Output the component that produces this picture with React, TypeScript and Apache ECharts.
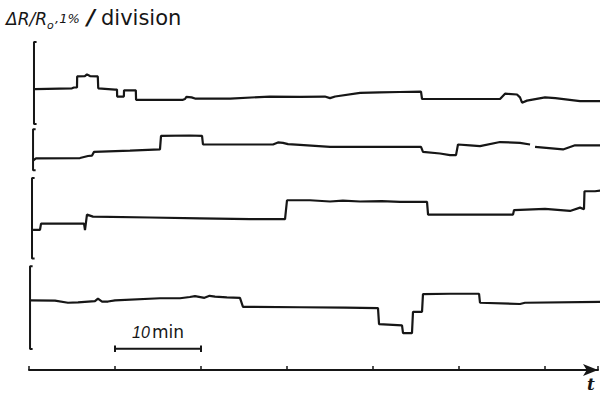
import React, { useEffect, useRef } from "react";
import * as echarts from "echarts";

// time in minutes, value in % (1 division = 1 %), relative to each panel's centre
const trace1: [number, number][] = [
  [0.7, -0.15], [5.0, -0.13], [5.23, -0.11], [5.58, -0.11], [5.6, 0.16], [6.5, 0.17], [6.74, 0.21], [7.09, 0.17],
  [8.0, 0.16], [8.05, -0.13], [10.0, -0.16], [10.23, -0.16], [10.25, -0.33], [11.03, -0.33], [11.05, -0.18],
  [12.42, -0.18], [12.45, -0.41], [17.9, -0.41], [18.14, -0.39], [18.3, -0.34], [18.9, -0.35], [19.3, -0.38],
  [23.4, -0.38], [28.0, -0.33], [31.5, -0.34], [34.4, -0.33], [35.0, -0.37], [35.6, -0.33], [38.5, -0.24],
  [40.8, -0.23], [43.1, -0.22], [45.58, -0.21], [45.7, -0.39], [54.77, -0.39], [55.35, -0.26], [56.74, -0.28],
  [57.09, -0.35], [57.33, -0.48], [57.9, -0.43], [60.0, -0.35], [61.2, -0.37], [64.07, -0.44], [66.63, -0.44]
];
const trace2: [number, number][] = [
  [0.47, -0.26], [0.81, -0.21], [5.93, -0.2], [6.86, -0.15], [7.33, -0.14], [7.56, -0.05], [11.74, -0.02],
  [15.23, 0.01], [15.35, 0.34], [18.7, 0.35], [20.12, 0.34], [20.23, 0.13], [28.37, 0.13], [28.95, 0.18],
  [29.53, 0.17], [30.12, 0.14], [31.51, 0.12], [35.0, 0.07], [45.58, 0.07], [45.81, -0.05], [47.79, -0.09],
  [48.95, -0.13], [49.65, -0.13], [49.88, 0.13], [51.28, 0.11], [52.44, 0.09], [54.77, 0.19], [57.09, 0.17],
  [58.26, 0.13], [58.5, null as unknown as number], [58.84, 0.07], [62.09, 0.01], [63.49, 0.11], [66.63, 0.11]
];
const trace3: [number, number][] = [
  [0.47, -0.28], [1.28, -0.28], [1.4, -0.13], [6.4, -0.13], [6.51, -0.29], [6.74, 0.09], [7.44, 0.04],
  [14.07, 0.02], [19.88, 0.0], [25.7, -0.02], [29.77, -0.02], [30.0, 0.44], [32.67, 0.44], [35.0, 0.41],
  [36.5, 0.43], [38.49, 0.41], [41.0, 0.42], [43.14, 0.4], [46.28, 0.4], [46.4, 0.09], [52.0, 0.09],
  [56.28, 0.09], [56.4, 0.2], [60.0, 0.23], [62.91, 0.18], [64.07, 0.26], [64.53, 0.22], [64.59, 0.66],
  [65.81, 0.66], [66.63, 0.68]
];
const trace4: [number, number][] = [
  [0.23, 0.18], [3.02, 0.17], [4.53, 0.12], [5.7, 0.13], [7.67, 0.16], [8.02, 0.22], [8.49, 0.15],
  [9.19, 0.15], [10.0, 0.18], [15.23, 0.23], [17.56, 0.23], [18.7, 0.26], [19.3, 0.28], [20.4, 0.24],
  [21.0, 0.29], [21.63, 0.27], [23.0, 0.25], [24.53, 0.24], [24.88, 0.02], [31.51, 0.01], [36.74, 0.0],
  [40.58, -0.01], [40.7, -0.4], [43.37, -0.43], [43.49, -0.62], [44.53, -0.62], [44.65, -0.1], [45.7, -0.1],
  [45.81, 0.33], [48.95, 0.34], [52.33, 0.34], [52.44, 0.12], [57.09, 0.09], [57.67, 0.12], [66.63, 0.14]
];
const traces = [trace1, trace2, trace3, trace4];
const panelOffsets = [7.0, 5.37, 3.7, 1.52];
const bracketX = [0.58, 0.47, 0.35, 0.12];
const bracketHalf = [1.0, 0.5, 0.98, 1.01];
const scaleBarMinutes = [10, 20];
const scaleBarLevel = 0.52;
const titleParts = ["ΔR/R", "o", ",1%", "/", "division"];
const scaleLabel = ["10", "min"];
const timeLabel = "t";

const INK = "#161616";

export default function App() {
  const ref = useRef<HTMLDivElement>(null);
  useEffect(() => {
    const chart = echarts.init(ref.current!, undefined, { renderer: "svg" });
    const series: any[] = [];
    traces.forEach((tr, i) => {
      series.push({
        type: "line",
        clip: false,
        showSymbol: false,
        connectNulls: false,
        lineStyle: { color: INK, width: 2.2 },
        data: tr.map(([t, v]) => [t, v == null ? null : v + panelOffsets[i]]),
      });
      const x = bracketX[i];
      const top = panelOffsets[i] + bracketHalf[i];
      const bot = panelOffsets[i] - bracketHalf[i];
      const hook = 0.3;
      series.push({
        type: "line",
        clip: false,
        showSymbol: false,
        lineStyle: { color: INK, width: 2 },
        data: [[x + hook, top], [x, top], [x, bot], [x + hook, bot]],
      });
    });
    const [s0, s1] = scaleBarMinutes;
    const c = 0.08;
    series.push({
      type: "line",
      clip: false,
      showSymbol: false,
      lineStyle: { color: INK, width: 2 },
      data: [[s0, scaleBarLevel + c], [s0, scaleBarLevel - c], [s0, scaleBarLevel], [s1, scaleBarLevel], [s1, scaleBarLevel + c], [s1, scaleBarLevel - c]],
    });

    const sans = "DejaVu Sans";
    chart.setOption({
      animation: false,
      grid: { left: 29, right: 4, top: 1, bottom: 25 },
      xAxis: {
        type: "value",
        min: 0,
        max: 66.16,
        interval: 10,
        axisLine: { show: true, lineStyle: { color: INK, width: 2 }, symbol: ["none", "arrow"], symbolSize: [9, 15] },
        axisTick: { show: true, inside: true, length: 4, lineStyle: { color: INK, width: 1.5 } },
        axisLabel: { show: false },
        splitLine: { show: false },
      },
      yAxis: { type: "value", min: 0, max: 9, show: false, splitLine: { show: false } },
      series,
      graphic: [
        { type: "text", x: 6, y: 19, style: { text: titleParts[0], font: `italic 17px "${sans}"`, fill: INK, verticalAlign: "middle" } },
        { type: "text", x: 47, y: 25, style: { text: titleParts[1], font: `italic 11px "${sans}"`, fill: INK, verticalAlign: "middle" } },
        { type: "text", x: 55, y: 18, style: { text: titleParts[2], font: `italic 13px "${sans}"`, fill: INK, verticalAlign: "middle" } },
        { type: "text", x: 87, y: 17, style: { text: titleParts[3], font: `italic bold 22px "${sans}"`, fill: INK, verticalAlign: "middle" } },
        { type: "text", x: 101, y: 17.5, style: { text: titleParts[4], font: `21px "${sans}"`, fill: INK, verticalAlign: "middle" } },
        { type: "text", x: 132, y: 332, style: { text: scaleLabel[0], font: `italic 16px "Liberation Sans"`, fill: INK, verticalAlign: "middle" } },
        { type: "text", x: 152, y: 332, style: { text: scaleLabel[1], font: `17px "${sans}"`, fill: INK, verticalAlign: "middle" } },
        { type: "text", x: 587, y: 384, style: { text: timeLabel, font: `italic bold 17px "DejaVu Serif"`, fill: INK, verticalAlign: "middle" } },
      ],
    });
    return () => chart.dispose();
  }, []);
  return <div ref={ref} style={{ position: "fixed", left: 0, top: 0, width: 602, height: 395, background: "#fff" }} />;
}
